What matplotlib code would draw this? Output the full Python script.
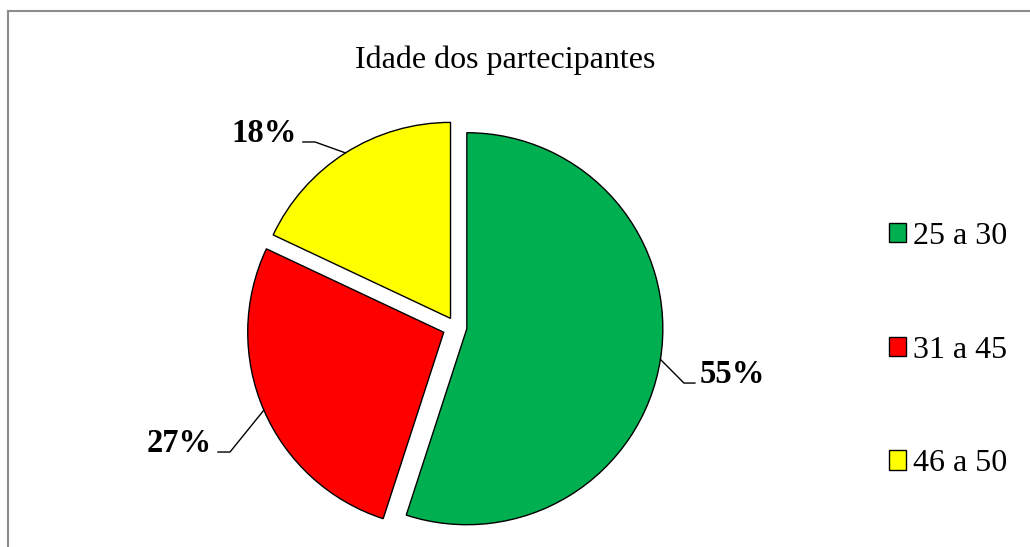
import numpy as np
import matplotlib
matplotlib.use('Agg')
import matplotlib.pyplot as plt
from matplotlib.lines import Line2D

# Dados
faixas = ['25 a 30', '31 a 45', '46 a 50']
percentuais = [55, 27, 18]
cores = ['#00B050', '#FF0000', '#FFFF00']

plt.rcParams['font.family'] = ['Liberation Serif', 'DejaVu Serif']

fig = plt.figure(figsize=(10.3, 5.47), dpi=100)
ax = fig.add_axes([0.2524, 0.0439, 0.3806, 0.7166])

fatias, _ = ax.pie(percentuais, colors=cores, startangle=90, counterclock=False,
                   explode=[0.056, 0.068, 0.052],
                   wedgeprops={'edgecolor': 'black', 'linewidth': 1.0})
ax.set_xlim(-1, 1)
ax.set_ylim(-1, 1)
ax.set_aspect('auto')

# linhas de chamada (cotovelo x, y, fim x, x do texto) em unidades do eixo
chamadas = [
    (1.163, -0.286, 1.219, 1.245, 'left'),
    (-1.153, -0.638, -1.214, -1.245, 'right'),
    (-0.719, 0.944, -0.781, -0.811, 'right'),
]
for fatia, pct, (xc, yc, xf, xt, ha) in zip(fatias, percentuais, chamadas):
    ang = np.deg2rad((fatia.theta1 + fatia.theta2) / 2)
    cx, cy = fatia.center
    xa = cx + fatia.r * np.cos(ang)
    ya = cy + fatia.r * np.sin(ang)
    ax.plot([xa, xc, xf], [ya, yc, yc], color='black', lw=1.0, clip_on=False)
    ax.text(xt, yc, f'{pct}%', ha=ha, va='baseline', fontsize=23.5,
            fontweight='bold')

fig.text(0.490, 0.890, 'Idade dos partecipantes', ha='center', va='center',
         fontsize=23)

fig.legend(fatias, faixas, loc='center left', bbox_to_anchor=(0.863, 0.360),
           frameon=False, fontsize=23, labelspacing=2.65, handlelength=0.55,
           handleheight=0.55, handletextpad=0.2, borderpad=0, borderaxespad=0)

# borda cinza (apenas topo e esquerda visíveis)
fig.add_artist(Line2D([0.00825, 0.00825], [0.0, 0.9808], color='#8C8C8C',
                      lw=1.5, transform=fig.transFigure))
fig.add_artist(Line2D([0.00825, 1.0], [0.9808, 0.9808], color='#8C8C8C',
                      lw=1.5, transform=fig.transFigure))

fig.savefig('out.png', dpi=100)
